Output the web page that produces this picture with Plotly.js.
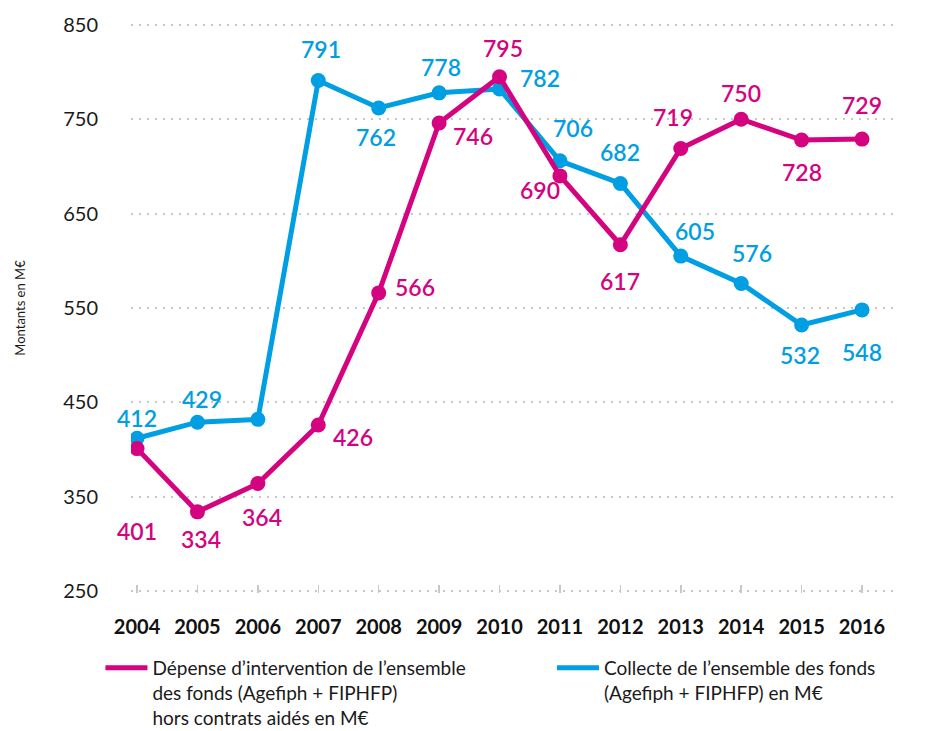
<!DOCTYPE html>
<html lang="fr">
<head>
<meta charset="utf-8">
<title>Agefiph + FIPHFP</title>
<script src="https://cdn.plot.ly/plotly-3.0.1.min.js"></script>
<style>
    html, body { margin: 0; padding: 0; background: #ffffff; }
    #graphique { width: 936px; height: 731px; }
</style>
</head>
<body>
<div id="graphique"></div>
<script>
// Données (montants en M€)
const annees = [2004, 2005, 2006, 2007, 2008, 2009, 2010, 2011, 2012, 2013, 2014, 2015, 2016];
const depense = [401, 334, 364, 426, 566, 746, 795, 690, 617, 719, 750, 728, 729];
const collecte = [412, 429, 432, 791, 762, 778, 782, 706, 682, 605, 576, 532, 548];
// 2006 : point de collecte sans étiquette
const etiquettesCollecte = ['412', '429', '', '791', '762', '778', '782', '706', '682', '605', '576', '532', '548'];
const graduationsY = [250, 350, 450, 550, 650, 750, 850];

const nomDepense = "Dépense d’intervention de l’ensemble<br>des fonds (Agefiph + FIPHFP)<br>hors contrats aidés en M€";
const nomCollecte = "Collecte de l’ensemble des fonds<br>(Agefiph + FIPHFP) en M€";

// Décalages des étiquettes (px) par rapport aux points
const decalDepense = [[0, -82], [4, -27], [4, -33], [35, -12], [36, 6], [34, -13], [3, 29],
                      [-20, -14], [0, -36], [-8, 32], [0, 26], [0, -32], [0, 34]];
const decalCollecte = [[0, 20], [5, 23], [0, 0], [3, 32], [-3, -29], [2, 26], [40, 11],
                       [13, 33], [0, 31], [14, 25], [11, 30], [-2, -30], [0, -42]];

const ROSE = '#d4037f';
const BLEU = '#009ee2';
const POLICE = 'Lato, "Open Sans", sans-serif';

document.addEventListener('DOMContentLoaded', function() {
    dessinerGraphique();
});

function serie(valeurs, nom, couleur, legende) {
    return [
        {
            x: annees,
            y: valeurs,
            name: nom,
            legend: legende,
            type: 'scatter',
            mode: 'lines',
            line: { color: couleur, width: 5 },
            hoverinfo: 'skip'
        },
        {
            x: annees,
            y: valeurs,
            type: 'scatter',
            mode: 'markers',
            marker: { color: couleur, size: 15 },
            showlegend: false
        }
    ];
}

function etiquettes(valeurs, textes, decalages, couleur) {
    return valeurs.map(function(v, i) {
        return {
            x: annees[i],
            y: v,
            text: textes[i],
            showarrow: false,
            xshift: decalages[i][0],
            yshift: decalages[i][1],
            font: { family: POLICE, size: 23, color: couleur, weight: 600 }
        };
    }).filter(function(a) { return a.text !== ''; });
}

function legendeEn(x) {
    return {
        orientation: 'h',
        x: x,
        xanchor: 'left',
        y: -0.098,
        yanchor: 'top',
        valign: 'top',
        itemwidth: 42,
        font: { family: POLICE, size: 19, color: '#1a1a1a' },
        bgcolor: 'rgba(0,0,0,0)'
    };
}

function dessinerGraphique() {
    // bleu dessiné d'abord, le rose passe au-dessus
    const data = serie(collecte, nomCollecte, BLEU, 'legend2')
        .concat(serie(depense, nomDepense, ROSE, 'legend'));

    const annotations = etiquettes(depense, depense.map(String), decalDepense, ROSE)
        .concat(etiquettes(collecte, etiquettesCollecte, decalCollecte, BLEU));

    const layout = {
        width: 936,
        height: 731,
        paper_bgcolor: '#ffffff',
        plot_bgcolor: '#ffffff',
        font: { family: POLICE, color: '#1a1a1a' },
        margin: { l: 131, r: 41, t: 23, b: 138, autoexpand: false },
        showlegend: true,
        xaxis: {
            range: [2003.9, 2016.546],
            tickvals: annees,
            ticktext: annees.map(String),
            showgrid: false,
            zeroline: false,
            showline: false,
            ticks: 'inside',
            ticklen: 8,
            tickwidth: 1.5,
            tickcolor: '#c8c8c8',
            ticklabelstandoff: 20,
            tickfont: { family: POLICE, size: 20, color: '#111111', weight: 'bold' },
            fixedrange: true
        },
        yaxis: {
            range: [248, 852],
            tickvals: graduationsY,
            showgrid: true,
            gridcolor: '#c8c8c8',
            gridwidth: 2,
            griddash: '2px,6px',
            zeroline: false,
            showline: false,
            ticks: '',
            ticklabelstandoff: 32,
            tickfont: { family: POLICE, size: 20, color: '#1a1a1a' },
            title: {
                text: 'Montants en M€',
                font: { family: POLICE, size: 13, color: '#1a1a1a' },
                standoff: 34
            },
            fixedrange: true
        },
        legend: legendeEn(-0.04),
        legend2: legendeEn(0.551),
        annotations: annotations
    };

    Plotly.newPlot('graphique', data, layout, { displayModeBar: false, staticPlot: true });
}
</script>
</body>
</html>
